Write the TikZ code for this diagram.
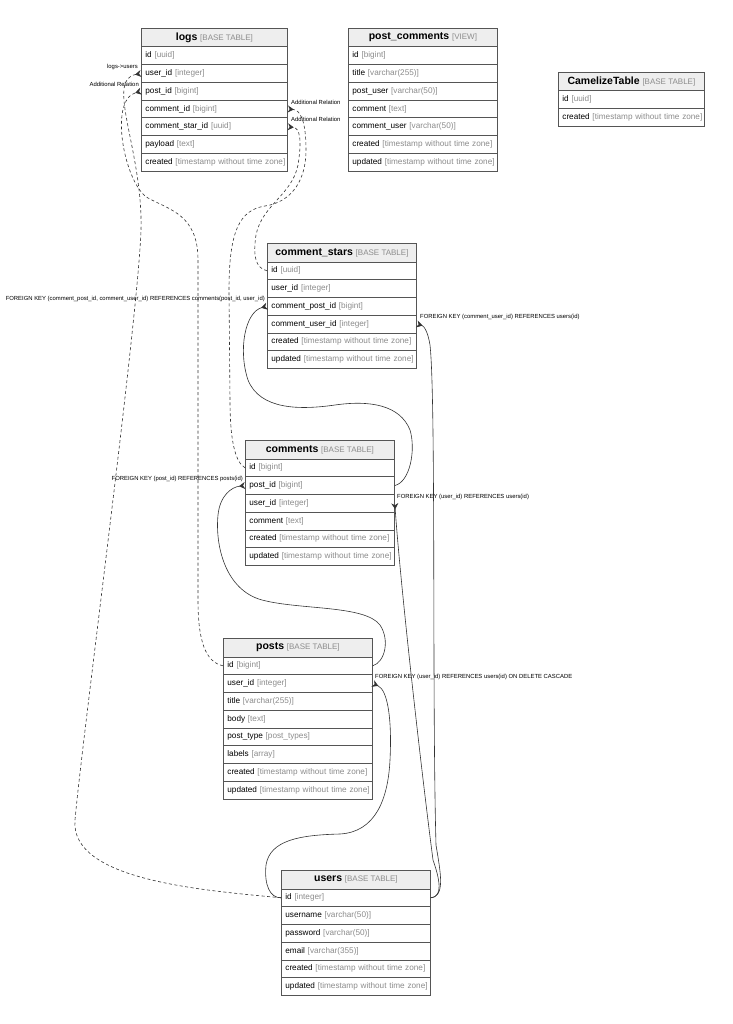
\documentclass[tikz,border=0pt]{standalone}
\usepackage{fontspec}
\setmainfont{Liberation Sans}
\usetikzlibrary{arrows.meta}
\definecolor{linegray}{HTML}{555555}
\definecolor{headgray}{HTML}{EEEEEE}
\definecolor{kindgray}{HTML}{8C8C8C}
\definecolor{edgeblack}{HTML}{333333}
\newcommand{\tblheadtext}[2]{{\fontsize{10.5}{12}\selectfont\bfseries #1}\ {\fontsize{8}{10}\selectfont\color{kindgray}[#2]}}
\newcommand{\tblrowtext}[2]{\mbox{#1\ \textcolor{kindgray}{[#2]}}}

\begin{document}
\begin{tikzpicture}[x=1pt,y=-1pt,
  tblhead/.style={draw=linegray, line width=0.8pt, fill=headgray, anchor=north west, inner sep=0pt, minimum height=18.5pt},
  tblrow/.style={draw=linegray, line width=0.8pt, anchor=north west, inner xsep=4pt, inner ysep=0pt, minimum height=17.75pt, align=left, font=\fontsize{8.2}{10}\selectfont},
  fk/.style={draw=edgeblack, line width=0.6pt, -{Stealth[reversed,length=6pt,width=7pt]}},
  rel/.style={fk, dash pattern=on 3pt off 2.5pt},
  fklabel/.style={inner sep=0pt, font=\fontsize{5.9}{7}\selectfont},
]
\fill[white] (0,0) rectangle (732,1024);
\useasboundingbox (0,0) rectangle (732,1024);

% logs
\node[tblhead, minimum width=146pt] (logs) at (141,28) {\tblheadtext{logs}{BASE TABLE}};
\foreach \fname/\ftype [count=\i] in {id/uuid, user\_id/integer, post\_id/bigint, comment\_id/bigint, comment\_star\_id/uuid, payload/text, created/timestamp without time zone}
  \node[tblrow, text width=138pt] (logs-\i) at (141,{46.5+(\i-1)*17.75}) {\tblrowtext{\fname}{\ftype}};

% post_comments
\node[tblhead, minimum width=149pt] (postcomments) at (348,28) {\tblheadtext{post\_comments}{VIEW}};
\foreach \fname/\ftype [count=\i] in {id/bigint, title/varchar(255), post\_user/varchar(50), comment/text, comment\_user/varchar(50), created/timestamp without time zone, updated/timestamp without time zone}
  \node[tblrow, text width=141pt] (pc-\i) at (348,{46.5+(\i-1)*17.75}) {\tblrowtext{\fname}{\ftype}};

% CamelizeTable
\node[tblhead, minimum width=146pt] (camelize) at (558,72) {\tblheadtext{CamelizeTable}{BASE TABLE}};
\foreach \fname/\ftype [count=\i] in {id/uuid, created/timestamp without time zone}
  \node[tblrow, text width=138pt] (cam-\i) at (558,{90.5+(\i-1)*17.75}) {\tblrowtext{\fname}{\ftype}};

% comment_stars
\node[tblhead, minimum width=149pt] (commentstars) at (267,243) {\tblheadtext{comment\_stars}{BASE TABLE}};
\foreach \fname/\ftype [count=\i] in {id/uuid, user\_id/integer, comment\_post\_id/bigint, comment\_user\_id/integer, created/timestamp without time zone, updated/timestamp without time zone}
  \node[tblrow, text width=141pt] (cs-\i) at (267,{261.5+(\i-1)*17.75}) {\tblrowtext{\fname}{\ftype}};

% comments
\node[tblhead, minimum width=149pt] (comments) at (245,440) {\tblheadtext{comments}{BASE TABLE}};
\foreach \fname/\ftype [count=\i] in {id/bigint, post\_id/bigint, user\_id/integer, comment/text, created/timestamp without time zone, updated/timestamp without time zone}
  \node[tblrow, text width=141pt] (cm-\i) at (245,{458.5+(\i-1)*17.75}) {\tblrowtext{\fname}{\ftype}};

% posts
\node[tblhead, minimum width=149pt] (posts) at (223,638) {\tblheadtext{posts}{BASE TABLE}};
\foreach \fname/\ftype [count=\i] in {id/bigint, user\_id/integer, title/varchar(255), body/text, post\_type/post\_types, labels/array, created/timestamp without time zone, updated/timestamp without time zone}
  \node[tblrow, text width=141pt] (po-\i) at (223,{656.5+(\i-1)*17.75}) {\tblrowtext{\fname}{\ftype}};

% users
\node[tblhead, minimum width=149pt] (users) at (281,870) {\tblheadtext{users}{BASE TABLE}};
\foreach \fname/\ftype [count=\i] in {id/integer, username/varchar(50), password/varchar(50), email/varchar(355), created/timestamp without time zone, updated/timestamp without time zone}
  \node[tblrow, text width=141pt] (us-\i) at (281,{888.5+(\i-1)*17.75}) {\tblrowtext{\fname}{\ftype}};

% additional relations (dashed)
\draw[rel] (us-1.west) .. controls (200,890) and (70,880) .. (75,820) .. controls (82,740) and (138,320) .. (141,230) .. controls (143,150) and (105,80) .. (logs-2.west);
\draw[rel] (po-1.west) .. controls (205,662) and (198,640) .. (198,600) -- (198,260) .. controls (198,215) and (170,210) .. (148,198) .. controls (125,185) and (108,100) .. (logs-3.west);
\draw[rel] (cm-1.west) .. controls (235,462) and (230,440) .. (230,400) -- (229,290) .. controls (229,230) and (240,210) .. (265,206) .. controls (292,202) and (306,180) .. (306,150) .. controls (306,120) and (300,110) .. (logs-4.east);
\draw[rel] (cs-1.west) .. controls (255,268) and (253,255) .. (256,235) .. controls (262,205) and (292,195) .. (298,165) .. controls (302,140) and (300,128) .. (logs-5.east);

% foreign keys
\draw[fk] (cm-2.east) .. controls (410,482) and (416,450) .. (410,430) .. controls (400,405) and (370,400) .. (335,405) .. controls (300,410) and (260,410) .. (248,380) .. controls (238,350) and (245,312) .. (cs-3.west);
\draw[fk] (us-1.east) .. controls (445,896) and (441,875) .. (436,845) .. controls (432,700) and (436,400) .. (430,345) .. controls (428,332) and (424,326) .. (cs-4.east);
\draw[fk] (us-1.east) .. controls (443,897) and (440,880) .. (433,860) .. controls (420,760) and (400,580) .. (cm-3.east);
\draw[fk] (po-1.east) .. controls (385,662) and (390,640) .. (380,625) .. controls (365,605) and (300,610) .. (262,600) .. controls (225,590) and (215,545) .. (218,515) .. controls (220,495) and (232,487) .. (cm-2.west);
\draw[fk] (us-1.west) .. controls (270,898) and (264,885) .. (266,865) .. controls (270,840) and (300,835) .. (340,834) .. controls (375,832) and (388,800) .. (390,760) .. controls (392,720) and (388,690) .. (po-2.east);

% labels
\node[fklabel, anchor=east] (lbl-logsusers) at (138,67) {logs->users};
\node[fklabel, anchor=east] (lbl-relpost) at (139,84) {Additional Relation};
\node[fklabel, anchor=west] (lbl-relcomment) at (291,102) {Additional Relation};
\node[fklabel, anchor=west] (lbl-relstar) at (291,119) {Additional Relation};
\node[fklabel, anchor=east] (lbl-fkstarpost) at (265,299) {FOREIGN KEY (comment\_post\_id, comment\_user\_id) REFERENCES comments(post\_id, user\_id)};
\node[fklabel, anchor=west] (lbl-fkstaruser) at (420,317) {FOREIGN KEY (comment\_user\_id) REFERENCES users(id)};
\node[fklabel, anchor=east] (lbl-fkcommentpost) at (243,479) {FOREIGN KEY (post\_id) REFERENCES posts(id)};
\node[fklabel, anchor=west] (lbl-fkcommentuser) at (397,497) {FOREIGN KEY (user\_id) REFERENCES users(id)};
\node[fklabel, anchor=west] (lbl-fkpostuser) at (375,677) {FOREIGN KEY (user\_id) REFERENCES users(id) ON DELETE CASCADE};
\end{tikzpicture}
\end{document}
